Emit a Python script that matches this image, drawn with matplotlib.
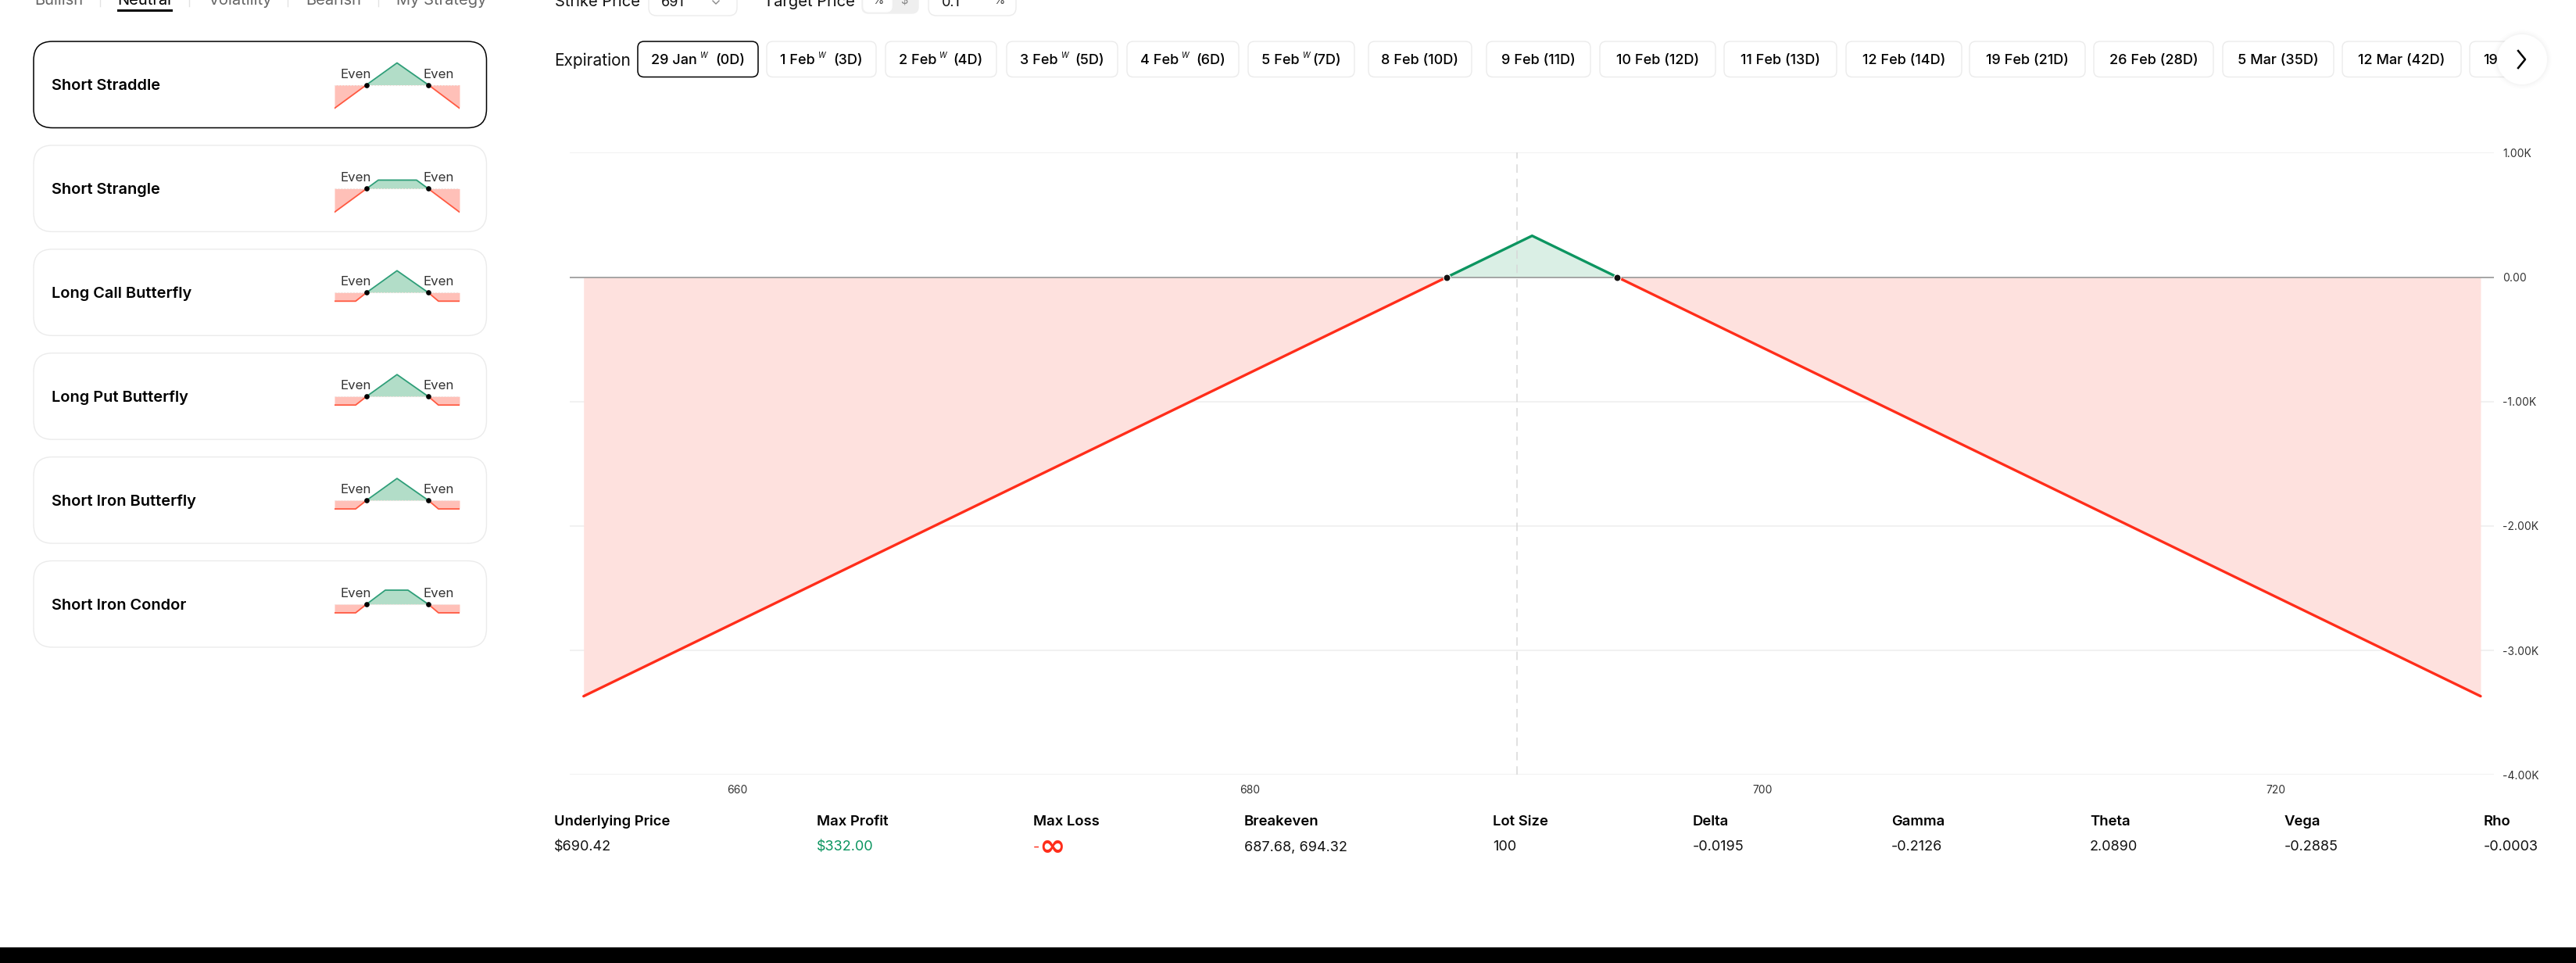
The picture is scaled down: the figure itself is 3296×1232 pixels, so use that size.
import numpy as np
import matplotlib
matplotlib.use("Agg")
import matplotlib.pyplot as plt
from matplotlib.patches import FancyBboxPatch, Circle, Rectangle

W, H = 3296, 1232
plt.rcParams['font.family'] = ['Inter', 'DejaVu Sans']

# -----------------------------
# Data
# -----------------------------
price = [654.0, 687.68, 691.0, 694.32, 728.0]
profit = [-3368, 0, 332, 0, -3368]
underlying = 690.42
x_ticks = [660, 680, 700, 720]
y_ticks = [1000, 0, -1000, -2000, -3000, -4000]
y_labels = ['1.00K', '0.00', '-1.00K', '-2.00K', '-3.00K', '-4.00K']

strategies = ['Short Straddle', 'Short Strangle', 'Long Call Butterfly',
              'Long Put Butterfly', 'Short Iron Butterfly', 'Short Iron Condor']
mini_x = [
    [0, 41, 80, 120, 160],
    [0, 41, 56, 105, 120, 160],
    [0, 27, 41, 80, 120, 133, 160],
    [0, 27, 41, 80, 120, 133, 160],
    [0, 27, 41, 80, 120, 133, 160],
    [0, 27, 41, 65, 94, 120, 133, 160],
]
mini_y = [
    [-30, 0, 28, 0, -30],
    [-30, 0, 11, 11, 0, -30],
    [-11, -11, 0, 28, 0, -11, -11],
    [-11, -11, 0, 28, 0, -11, -11],
    [-11, -11, 0, 28, 0, -11, -11],
    [-11, -11, 0, 18, 18, 0, -11, -11],
]

tabs = ['Bullish', 'Neutral', 'Volatility', 'Bearish', 'My Strategy']
tab_x = [44, 150, 266, 391, 507]
tab_sep = [128, 242, 368, 484]

expirations = ['29 Jan', '1 Feb', '2 Feb', '3 Feb', '4 Feb', '5 Feb', '8 Feb', '9 Feb',
               '10 Feb', '11 Feb', '12 Feb', '19 Feb', '26 Feb', '5 Mar', '12 Mar', '19']
days = ['(0D)', '(3D)', '(4D)', '(5D)', '(6D)', '(7D)', '(10D)', '(11D)',
        '(12D)', '(13D)', '(14D)', '(21D)', '(28D)', '(35D)', '(42D)', '']
weekly = [True, True, True, True, True, True, False, False,
          False, False, False, False, False, False, False, False]
exp_left = [816, 981, 1133, 1288, 1442, 1597, 1751, 1902, 2047, 2206, 2362, 2520, 2679, 2844, 2997, 3160]
exp_right = [970, 1121, 1275, 1430, 1585, 1733, 1883, 2035, 2195, 2350, 2510, 2668, 2832, 2986, 3149, 3240]

stat_names = ['Underlying Price', 'Max Profit', 'Max Loss', 'Breakeven', 'Lot Size',
              'Delta', 'Gamma', 'Theta', 'Vega', 'Rho']
stat_values = ['$690.42', '$332.00', '-', '687.68, 694.32', '100',
               '-0.0195', '-0.2126', '2.0890', '-0.2885', '-0.0003']
stat_x = [709, 1045, 1322, 1592, 1910, 2166, 2420, 2674, 2923, 3178]

GREEN = '#0C9560'
RED = '#FF2D1A'
TEXT = '#111111'

fig = plt.figure(figsize=(W / 100, H / 100), dpi=100, facecolor='white')


def px_axes(left, top, right, bottom, **kw):
    return fig.add_axes([left / W, 1 - bottom / H, (right - left) / W, (bottom - top) / H], **kw)


# -----------------------------
# Main payoff chart
# -----------------------------
ax = px_axes(729, 195.3, 3191, 991.3)
ax.set_xlim(653.46, 728.52)
ax.set_ylim(-4000, 1000)
for s in ax.spines.values():
    s.set_visible(False)

px = np.array(price)
py = np.array(profit)
ax.fill_between(px, py, 0, where=py >= 0, color='#DAEFE5', lw=0, zorder=1)
ax.fill_between(px[:2], py[:2], 0, color='#FEE1DE', lw=0, zorder=1)
ax.fill_between(px[3:], py[3:], 0, color='#FEE1DE', lw=0, zorder=1)
ax.set_yticks(y_ticks, y_labels)
ax.set_xticks(x_ticks)
ax.yaxis.tick_right()
ax.tick_params(length=0, labelsize=10, labelcolor='#333333')
ax.tick_params(axis='y', pad=8)
ax.tick_params(axis='x', pad=9)
ax.grid(axis='y', color='#EEEEEE', lw=1.1, zorder=0)
ax.set_axisbelow(True)
ax.axhline(0, color='#999999', lw=1.2, zorder=2)
ax.axvline(underlying, color='#D8D8D8', lw=1.1, dashes=(7, 5), zorder=2)
ax.plot(px[:2], py[:2], color=RED, lw=2.4, zorder=3, solid_capstyle='round')
ax.plot(px[3:], py[3:], color=RED, lw=2.4, zorder=3, solid_capstyle='round')
ax.plot(px[1:4], py[1:4], color=GREEN, lw=2.4, zorder=3, solid_capstyle='round')
ax.plot(px[[1, 3]], py[[1, 3]], 'o', ms=6.5, mfc='#111111', mec='white', mew=0.8, zorder=4)

# -----------------------------
# Page chrome drawn in pixel coordinates
# -----------------------------
ui = fig.add_axes([0, 0, 1, 1], zorder=5)
ui.set_xlim(0, W)
ui.set_ylim(H, 0)
ui.axis('off')
ui.patch.set_alpha(0)


def box(left, top, right, bottom, r=12, ec='#EBEBEB', fc='white', lw=1.0, z=1):
    ui.add_patch(FancyBboxPatch((left + r, top + r), right - left - 2 * r, bottom - top - 2 * r,
                                boxstyle=f'round,pad={r},rounding_size={r}',
                                ec=ec, fc=fc, lw=lw, zorder=z))


# tabs clipped by the top of the page
for name, x in zip(tabs, tab_x):
    on = name == 'Neutral'
    ui.text(x, 1, name, fontsize=14.5, color='black' if on else '#666666', va='center', ha='left')
for x in tab_sep:
    ui.plot([x, x], [0, 8], color='#E2E2E2', lw=1)
ui.add_patch(Rectangle((150, 12), 71, 3, fc='black', lw=0))

# strategy cards
for i, name in enumerate(strategies):
    top = 53 + i * 132.9
    on = i == 0
    box(43, top, 622.5, top + 110.5, r=24, ec='black' if on else '#EBEBEB', lw=1.1 if on else 1.0)
    base = top + 55.5
    ui.text(66, base + 1.5, name, fontsize=14.4, fontweight=600, color='black', va='center', ha='left')
    ui.text(455.5, base - 13.5, 'Even', fontsize=12.2, color='#333333', va='center', ha='center')
    ui.text(561, base - 13.5, 'Even', fontsize=12.2, color='#333333', va='center', ha='center')

    m = px_axes(428, base - 40, 588, base + 40, zorder=6)
    m.set_xlim(0, 160)
    m.set_ylim(-40, 40)
    m.axis('off')
    mx = np.array(mini_x[i])
    my = np.array(mini_y[i])
    z0, z1 = np.where(my == 0)[0]
    m.fill_between(mx[:z0 + 1], my[:z0 + 1], 0, color='#FFC0B8', lw=0)
    m.fill_between(mx[z1:], my[z1:], 0, color='#FFC0B8', lw=0)
    m.fill_between(mx[z0:z1 + 1], my[z0:z1 + 1], 0, color='#B2DDC8', lw=0)
    m.plot([0, 160], [0, 0], color='#F3E3DF', lw=0.8, dashes=(2, 1.5))
    m.plot(mx[:z0 + 1], my[:z0 + 1], color='#FF5A42', lw=1.3)
    m.plot(mx[z1:], my[z1:], color='#FF5A42', lw=1.3)
    m.plot(mx[z0:z1 + 1], my[z0:z1 + 1], color='#2E9E78', lw=1.3)
    m.plot(mx[[z0, z1]], my[[z0, z1]], 'o', ms=4.8, color='black', mew=0)

# strike / target row clipped by the top of the page
ui.text(710, 3, 'Strike Price', fontsize=14.5, color=TEXT, va='center')
box(830, -30, 943, 20, r=10)
ui.text(846, 3, '691', fontsize=13, color=TEXT, va='center')
ui.plot([912, 916, 920], [1, 5, 1], color='#888888', lw=1)
ui.text(977, 3, 'Target Price', fontsize=14.5, color=TEXT, va='center')
box(1103, -30, 1175, 17, r=8, ec='#EFEFEF', fc='#EFEFEF')
box(1105, -30, 1141, 15, r=7, ec='white', fc='white')
ui.text(1124, 1, '%', fontsize=10.5, color='#444444', va='center', ha='center')
ui.text(1157, 1, '$', fontsize=10.5, color='#888888', va='center', ha='center')
box(1188, -30, 1300, 20, r=10)
ui.text(1205, 3, '0.1', fontsize=13, color=TEXT, va='center')
ui.text(1279, 1, '%', fontsize=10.5, color='#444444', va='center', ha='center')

# expiration row
ui.text(709, 78, 'Expiration', fontsize=15, color=TEXT, va='center')
for i, (lab, day) in enumerate(zip(expirations, days)):
    left, right = exp_left[i], exp_right[i]
    on = i == 0
    box(left, 53, right, 98.5, r=8, ec='black' if on else '#EBEBEB', lw=1.1 if on else 1.0, z=2)
    cx = (left + right) / 2
    if weekly[i]:
        t = ui.text(left + 17, 77.5, lab, fontsize=13, fontweight=500, color='black', va='center', ha='left', zorder=3)
        bb = t.get_window_extent(fig.canvas.get_renderer())
        ui.text(bb.x1 + 3, 71, 'W', fontsize=7, style='italic', color='black', va='center', ha='left', zorder=3)
        ui.text(right - 17, 77.5, day, fontsize=13, fontweight=500, color='black', va='center', ha='right', zorder=3)
    elif day:
        ui.text(cx, 77.5, lab + ' ' + day, fontsize=13, fontweight=500, color='black', va='center', ha='center', zorder=3)
    else:
        ui.text(left + 17, 77.5, lab, fontsize=13, fontweight=500, color='black', va='center', ha='left', zorder=3)

# next arrow with a soft shadow
for r, a in zip([38, 36, 34], [0.008, 0.012, 0.015]):
    ui.add_patch(Circle((3227, 76), r, fc='black', alpha=a, lw=0, zorder=4))
ui.add_patch(Circle((3227, 76), 32, fc='white', lw=0, zorder=5))
ui.plot([3222, 3231, 3222], [65, 76, 87], color='black', lw=1.8, zorder=6)

# stats
for name, val, x in zip(stat_names, stat_values, stat_x):
    ui.text(x, 1051.5, name, fontsize=13.3, fontweight=600, color='black', va='center', ha='left')
    col = GREEN if name == 'Max Profit' else (RED if name == 'Max Loss' else TEXT)
    ui.text(x, 1084, val, fontsize=13, color=col, va='center', ha='left')
ui.text(1329, 1084, '∞', fontsize=29, fontweight='bold', family='DejaVu Sans', color=RED, va='center', ha='left')

# bottom bar
ui.add_patch(Rectangle((0, 1212), W, 20, fc='black', lw=0, zorder=7))

fig.savefig('out.png', dpi=100)
